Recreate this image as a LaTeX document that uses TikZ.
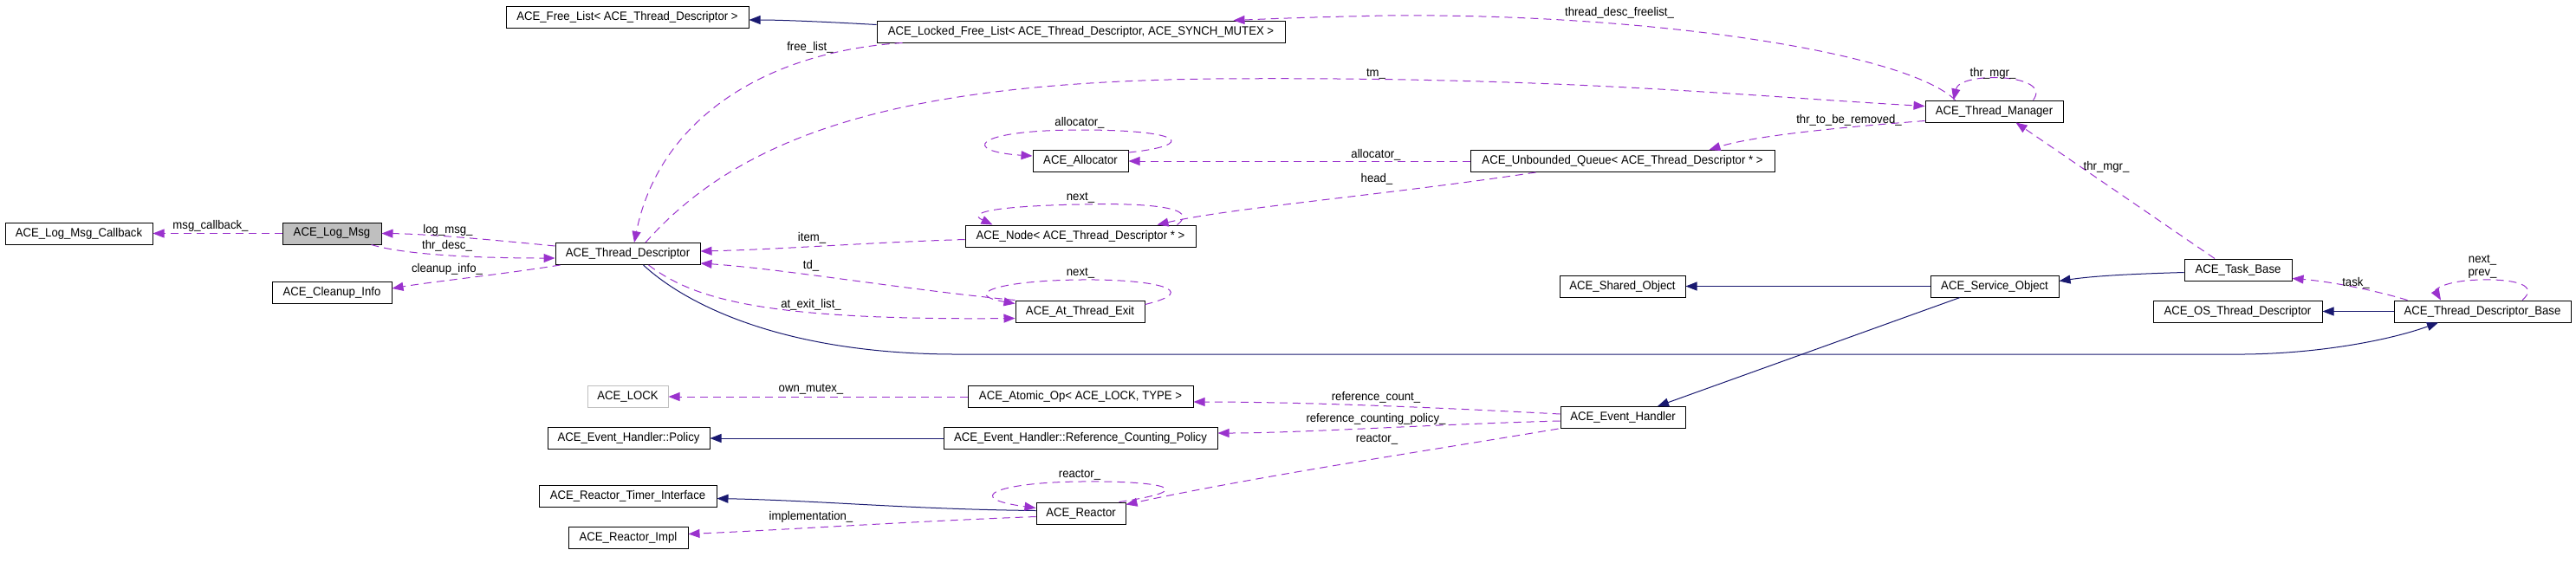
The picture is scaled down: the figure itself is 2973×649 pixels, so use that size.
\documentclass[tikz,border=0pt]{standalone}
\usepackage{fontspec}
\setmainfont[FakeStretch=0.94]{Liberation Sans}
\usetikzlibrary{arrows.meta,calc}
\definecolor{usecol}{HTML}{9A32CD}
\definecolor{inhcol}{HTML}{191970}
\definecolor{grayfill}{HTML}{BFBFBF}
\newcommand{\lbf}{\fontsize{14}{15}\selectfont}
\tikzset{
  cls/.style={draw=black, line width=1pt, fill=white, inner sep=0pt, minimum height=25pt, font=\lbf},
  lbl/.style={inner sep=0pt, font=\lbf, align=center},
  usage/.style={draw=usecol, line width=1pt, dash pattern=on 9pt off 6pt, -{Triangle[length=13pt,width=10pt]}},
  inherit/.style={draw=inhcol, line width=1pt, -{Triangle[length=13pt,width=10pt]}},
}
\begin{document}
\begin{tikzpicture}[x=1pt,y=-1pt]
\useasboundingbox (0,0) rectangle (2973,649);
% classes
\node[cls, minimum width=280pt] (freelist) at (724,20) {ACE\_Free\_List< ACE\_Thread\_Descriptor >};
\node[cls, minimum width=471pt] (lockedfl) at (1247.5,36.5) {ACE\_Locked\_Free\_List< ACE\_Thread\_Descriptor, ACE\_SYNCH\_MUTEX >};
\node[cls, minimum width=159pt] (tmgr) at (2301.5,128.5) {ACE\_Thread\_Manager};
\node[cls, minimum width=110pt] (alloc) at (1247,186) {ACE\_Allocator};
\node[cls, minimum width=351pt] (uqueue) at (1872.5,186) {ACE\_Unbounded\_Queue< ACE\_Thread\_Descriptor * >};
\node[cls, minimum width=170pt] (lmcb) at (91,269.5) {ACE\_Log\_Msg\_Callback};
\node[cls, minimum width=114pt, fill=grayfill] (logmsg) at (383,269.5) {ACE\_Log\_Msg};
\node[cls, minimum width=167pt] (tdesc) at (724.5,293) {ACE\_Thread\_Descriptor};
\node[cls, minimum width=266pt] (node) at (1247,272.5) {ACE\_Node< ACE\_Thread\_Descriptor * >};
\node[cls, minimum width=138pt] (cleanup) at (383,338) {ACE\_Cleanup\_Info};
\node[cls, minimum width=149pt] (atexit) at (1246.5,359.5) {ACE\_At\_Thread\_Exit};
\node[cls, minimum width=145pt] (shobj) at (1872.5,330.5) {ACE\_Shared\_Object};
\node[cls, minimum width=148pt] (svcobj) at (2302,330.5) {ACE\_Service\_Object};
\node[cls, minimum width=124pt] (taskbase) at (2583,311.5) {ACE\_Task\_Base};
\node[cls, minimum width=195pt] (ostd) at (2582.5,359.5) {ACE\_OS\_Thread\_Descriptor};
\node[cls, minimum width=204pt] (tdbase) at (2865,359.5) {ACE\_Thread\_Descriptor\_Base};
\node[cls, minimum width=93pt, draw=grayfill] (lock) at (724.5,458) {ACE\_LOCK};
\node[cls, minimum width=260pt] (atomic) at (1247,458) {ACE\_Atomic\_Op< ACE\_LOCK, TYPE >};
\node[cls, minimum width=187pt] (policy) at (725.5,506) {ACE\_Event\_Handler::Policy};
\node[cls, minimum width=316pt] (rcp) at (1247,506) {ACE\_Event\_Handler::Reference\_Counting\_Policy};
\node[cls, minimum width=144pt] (evh) at (1873,482) {ACE\_Event\_Handler};
\node[cls, minimum width=205pt] (rti) at (724.5,572.5) {ACE\_Reactor\_Timer\_Interface};
\node[cls, minimum width=103pt] (reactor) at (1247.5,592.5) {ACE\_Reactor};
\node[cls, minimum width=138pt] (rimpl) at (725,620.5) {ACE\_Reactor\_Impl};

% inheritance edges
\draw[inherit] ($(lockedfl.west)+(0,-8)$) .. controls (950,25) and (900,23) .. ($(freelist.east)+(0,3)$);
\draw[inherit] (svcobj.west) -- (shobj.east);
\draw[inherit] ($(taskbase.west)+(0,3)$) .. controls (2470,316) and (2420,318) .. ($(svcobj.east)+(0,-6)$);
\draw[inherit] (tdbase.west) -- (ostd.east);
\draw[inherit] ($(tdesc.south)+(18,0)$) .. controls (790,350) and (900,408) .. (1100,409) -- (2590,409) .. controls (2680,408) and (2760,392) .. ($(tdbase.south)+(-51,0)$);
\draw[inherit] ($(svcobj.south)+(-40,0)$) -- ($(evh.north)+(40,0)$);
\draw[inherit] (rcp.west) -- (policy.east);
\draw[inherit] ($(reactor.west)+(0,-3)$) .. controls (1050,588) and (950,578) .. ($(rti.east)+(0,3)$);

% usage edges
\draw[usage] (logmsg.west) -- (lmcb.east);
\node[lbl] (l1) at (243,261) {msg\_callback\_};
\draw[usage] ($(tdesc.west)+(0,-9)$) .. controls (560,276) and (490,270) .. (logmsg.east);
\node[lbl] (l2) at (517,266) {log\_msg\_};
\draw[usage] ($(logmsg.south east)+(-12,0)$) .. controls (470,295) and (560,298) .. ($(tdesc.west)+(0,5)$);
\node[lbl] (l3) at (516,284) {thr\_desc\_};
\draw[usage] ($(tdesc.south west)+(6,0)$) .. controls (570,318) and (500,325) .. ($(cleanup.east)+(0,-5)$);
\node[lbl] (l4) at (516,311) {cleanup\_info\_};
\draw[usage] ($(lockedfl.south west)+(30,0)$) .. controls (880,60) and (760,140) .. ($(tdesc.north)+(7.5,0)$);
\node[lbl] (l5) at (935,55) {free\_list\_};
\draw[usage] ($(tdesc.north)+(20.5,0)$) .. controls (860,150) and (1050,95) .. (1400,91) .. controls (1800,88) and (2000,110) .. ($(tmgr.west)+(0,-6)$);
\node[lbl] (l6) at (1588,85) {tm\_};
\draw[usage] ($(tmgr.north west)+(35,0)$) .. controls (2200,60) and (1900,15) .. (1600,18) .. controls (1500,20) and (1460,22) .. ($(lockedfl.north east)+(-60,0)$);
\node[lbl] (l7) at (1869,15) {thread\_desc\_freelist\_};
\draw[usage] ($(tmgr.north east)+(-35,0)$) .. controls (2370,85) and (2262,82) .. ($(tmgr.north west)+(33,0)$);
\node[lbl] (l8) at (2300,85) {thr\_mgr\_};
\draw[usage] ($(tmgr.south west)+(0,-2)$) .. controls (2150,145) and (2030,155) .. ($(uqueue.north)+(100,0)$);
\node[lbl] (l9) at (2134,139) {thr\_to\_be\_removed\_};
\draw[usage] (uqueue.west) -- (alloc.east);
\node[lbl] (l10) at (1588,179) {allocator\_};
\draw[usage] ($(alloc.north east)+(0,3)$) .. controls (1380,168) and (1370,150) .. (1247,150) .. controls (1120,150) and (1110,175) .. ($(alloc.west)+(0,-6)$);
\node[lbl] (l11) at (1246,142) {allocator\_};
\draw[usage] ($(uqueue.south)+(-100,0)$) .. controls (1600,225) and (1420,240) .. ($(node.north east)+(-45,0)$);
\node[lbl] (l12) at (1589,207) {head\_};
\draw[usage] ($(node.north east)+(-22,0)$) .. controls (1385,240) and (1330,234) .. (1247,236) .. controls (1150,238) and (1115,245) .. ($(node.north west)+(32,0)$);
\node[lbl] (l13) at (1247,228) {next\_};
\draw[usage] ($(node.west)+(0,4)$) .. controls (1000,280) and (900,288) .. ($(tdesc.east)+(0,-3)$);
\node[lbl] (l14) at (937,275) {item\_};
\draw[usage] ($(atexit.north west)+(0,0)$) .. controls (1050,335) and (900,310) .. ($(tdesc.east)+(0,11)$);
\node[lbl] (l15) at (936,307) {td\_};
\draw[usage] ($(tdesc.south)+(24,0)$) .. controls (800,345) and (880,370) .. ($(atexit.west)+(0,8)$);
\node[lbl] (l16) at (936,352) {at\_exit\_list\_};
\draw[usage] ($(atexit.north east)+(0,5)$) .. controls (1390,335) and (1330,322) .. (1247,323) .. controls (1150,324) and (1110,340) .. ($(atexit.north west)+(0,4)$);
\node[lbl] (l17) at (1247,315) {next\_};
\draw[usage] (atomic.west) -- (lock.east);
\node[lbl] (l18) at (936,449) {own\_mutex\_};
\draw[usage] ($(evh.west)+(0,-4)$) .. controls (1650,470) and (1500,464) .. ($(atomic.east)+(0,6)$);
\node[lbl] (l19) at (1588,459) {reference\_count\_};
\draw[usage] ($(evh.west)+(0,4)$) .. controls (1650,490) and (1500,500) .. ($(rcp.east)+(0,-6)$);
\node[lbl] (l20) at (1588,484) {reference\_counting\_policy\_};
\draw[usage] ($(evh.south west)+(-2,0)$) .. controls (1650,520) and (1450,550) .. ($(reactor.north east)+(0,3)$);
\node[lbl] (l21) at (1589,507) {reactor\_};
\draw[usage] ($(reactor.north east)+(-8,0)$) .. controls (1390,565) and (1340,555) .. (1247,556) .. controls (1150,557) and (1110,575) .. ($(reactor.west)+(0,-6)$);
\node[lbl] (l22) at (1246,548) {reactor\_};
\draw[usage] ($(reactor.west)+(0,4)$) .. controls (1050,602) and (900,612) .. ($(rimpl.east)+(0,-4)$);
\node[lbl] (l23) at (936,597) {implementation\_};
\draw[usage] ($(taskbase.north)+(-27,0)$) -- ($(tmgr.south)+(25,0)$);
\node[lbl] (l24) at (2431,193) {thr\_mgr\_};
\draw[usage] ($(tdbase.north west)+(16,0)$) .. controls (2740,335) and (2690,325) .. ($(taskbase.east)+(0,10)$);
\node[lbl] (l25) at (2719,327) {task\_};
\draw[usage] ($(tdbase.north)+(46,0)$) .. controls (2930,330) and (2905,322) .. (2863,323) .. controls (2820,324) and (2810,335) .. ($(tdbase.north)+(-48,0)$);
\node[lbl] (l26) at (2865,308) {next\_\\prev\_};
\end{tikzpicture}
\end{document}
